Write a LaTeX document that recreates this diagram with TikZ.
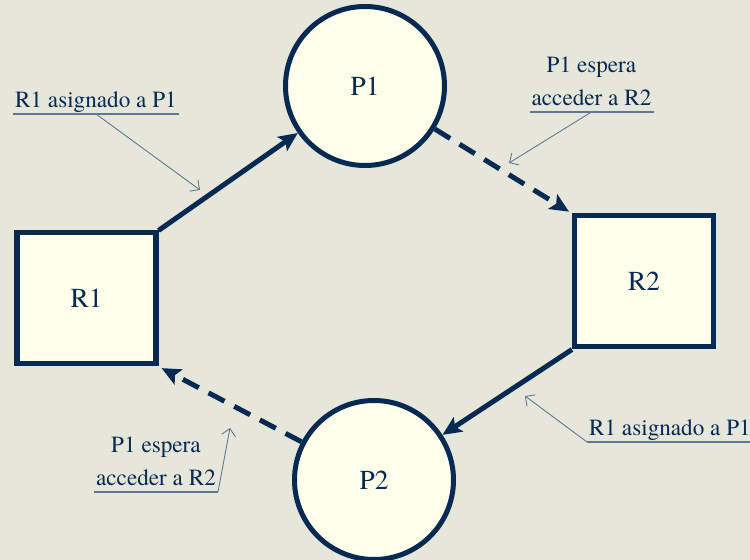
\documentclass[tikz,border=0pt]{standalone}
\usepackage{fontspec}
\setmainfont{texgyretermes}[Extension=.otf,UprightFont=*-regular,BoldFont=*-bold,
  ItalicFont=*-italic,BoldItalicFont=*-bolditalic]
\usepackage{xcolor}
\usetikzlibrary{arrows.meta}
\definecolor{paperbeige}{HTML}{E6E6DA}
\definecolor{boxcream}{HTML}{FFFFEB}
\definecolor{inknavy}{HTML}{062A52}
\definecolor{notegray}{HTML}{5E7893}

\begin{document}
\begin{tikzpicture}[
    proc/.style={circle,draw=inknavy,fill=boxcream,line width=2.85pt,minimum size=3.18cm,
      text=inknavy,font=\rmfamily\fontsize{15.6}{18}\selectfont},
    res/.style={rectangle,draw=inknavy,fill=boxcream,line width=2.85pt,minimum width=2.78cm,
      minimum height=2.62cm,text=inknavy,font=\rmfamily\fontsize{15.6}{18}\selectfont},
    held/.style={-{Stealth[length=0.38cm,width=0.34cm,inset=0.08cm]},inknavy,line width=2.85pt},
    waits/.style={held,dash pattern=on 0.36cm off 0.22cm},
    note/.style={text=inknavy,font=\rmfamily\fontsize{13.2}{18.8}\selectfont,align=center,
      inner xsep=1pt,inner ysep=0pt,text depth=3.6pt},
    pointer/.style={-{Straight Barb[length=0.14cm,width=0.28cm]},notegray,line width=0.5pt}
  ]
    \fill[paperbeige] (0,0) rectangle (15,11.2);
    \useasboundingbox (0,0) rectangle (15,11.2);

    \node[proc] (P1) at (7.30,9.48) {P1};
    \node[proc] (P2) at (7.48,1.60) {P2};
    \node[res] (R1) at (1.73,5.23) {R1};
    \node[res] (R2) at (12.88,5.57) {R2};

    \draw[held] (R1.north east) -- (P1);
    \draw[waits,shorten >=2pt] (P1) -- (R2.north west);
    \draw[held] (R2.south west) -- (P2);
    \draw[waits,shorten >=2pt] (P2) -- (R1.south east);

    \node[note,anchor=south west] (n1) at (0.26,8.92) {R1 asignado a P1};
    \node[note,anchor=south] (n2) at (11.83,8.96) {P1 espera\\acceder a R2};
    \node[note,anchor=south west] (n3) at (11.74,2.36) {R1 asignado a P1};
    \node[note,anchor=south] (n4) at (3.12,1.36) {P1 espera\\acceder a R2};

    \coordinate (t1) at (4.00,7.40);
    \coordinate (t2) at (10.18,7.94);
    \coordinate (t3) at (10.50,3.28);
    \coordinate (t4) at (4.60,2.64);

    \foreach \n in {n1,n2,n3,n4}
      \draw[notegray,line width=0.6pt] (\n.south west) -- (\n.south east);
    \draw[pointer] (n1.south) -- (t1);
    \draw[pointer] (n2.south) -- (t2);
    \draw[pointer] (n3.south west) -- (t3);
    \draw[pointer] (n4.south east) -- (t4);
  \end{tikzpicture}
\end{document}
